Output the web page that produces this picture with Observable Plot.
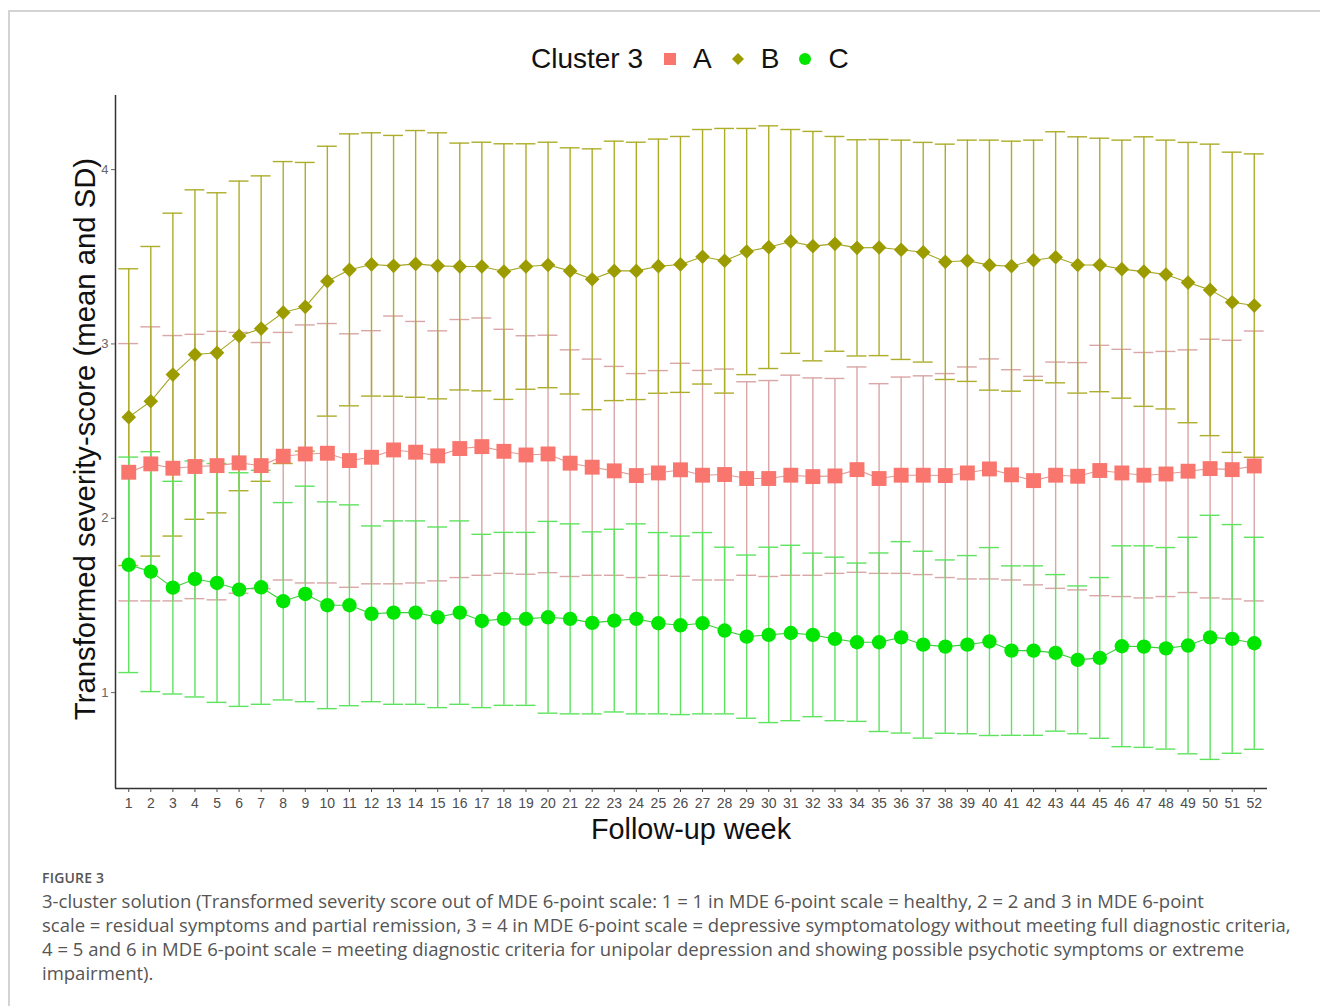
<!DOCTYPE html>
<html>
<head>
<meta charset="utf-8">
<script src="https://cdn.jsdelivr.net/npm/d3@7"></script>
<script src="https://cdn.jsdelivr.net/npm/@observablehq/plot@0.6"></script>
<style>
  body { margin: 0; background: #fff; }
  #page { position: relative; width: 1320px; height: 1006px; overflow: hidden; background: #fff; font-family: "Liberation Sans", Arial, sans-serif; }
  #frame { position: absolute; left: 8px; top: 10px; width: 1330px; height: 1010px; border-top: 2px solid #d4d4d4; border-left: 2px solid #d4d4d4; }
  #legend { position: absolute; left: 531px; top: 39px; height: 40px; display: flex; align-items: center; font-size: 28px; color: #111; white-space: nowrap; }
  #legend svg { display: block; }
  #chart { position: absolute; left: 0; top: 85px; }
  #ytitle { position: absolute; left: 85px; top: 439px; transform: translate(-50%, -50%) rotate(-90deg); font-size: 29.3px; color: #111; white-space: nowrap; }
  #xtitle { position: absolute; left: 691px; top: 829px; transform: translate(-50%, -50%); font-size: 28.8px; color: #111; white-space: nowrap; }
  #figlabel { position: absolute; left: 42px; top: 868px; font-family: "Open Sans", sans-serif; font-size: 14px; font-weight: 600; color: #555; letter-spacing: 0.2px; }
  #caption { position: absolute; left: 42px; top: 889px; font-family: "Open Sans", sans-serif; font-size: 18.5px; line-height: 24px; color: #555; white-space: nowrap; }
</style>
</head>
<body>
<div id="page">
  <div id="frame"></div>
  <div id="legend"></div>
  <div id="chart"></div>
  <div id="ytitle">Transformed severity-score (mean and SD)</div>
  <div id="xtitle">Follow-up week</div>
  <div id="figlabel">FIGURE 3</div>
  <div id="caption">3-cluster solution (Transformed severity score out of MDE 6-point scale: 1 = 1 in MDE 6-point scale = healthy, 2 = 2 and 3 in MDE 6-point<br>scale = residual symptoms and partial remission, 3 = 4 in MDE 6-point scale = depressive symptomatology without meeting full diagnostic criteria,<br>4 = 5 and 6 in MDE 6-point scale = meeting diagnostic criteria for unipolar depression and showing possible psychotic symptoms or extreme<br>impairment).</div>
</div>
<script>
// ---- data ----
const weeks = [1,2,3,4,5,6,7,8,9,10,11,12,13,14,15,16,17,18,19,20,21,22,23,24,25,26,27,28,29,30,31,32,33,34,35,36,37,38,39,40,41,42,43,44,45,46,47,48,49,50,51,52];
const yTicks = [1, 2, 3, 4];
const clusters = ["A", "B", "C"];

const meanA = [2.264,2.312,2.287,2.297,2.302,2.318,2.302,2.356,2.369,2.373,
               2.331,2.350,2.392,2.379,2.358,2.400,2.411,2.384,2.363,2.369,
               2.316,2.293,2.272,2.245,2.260,2.278,2.247,2.251,2.228,2.228,
               2.247,2.239,2.243,2.279,2.228,2.247,2.247,2.245,2.260,2.283,
               2.249,2.216,2.247,2.241,2.274,2.260,2.247,2.254,2.270,2.285,
               2.279,2.300];
const sdA   = [0.738,0.786,0.761,0.758,0.770,0.748,0.706,0.710,0.740,0.744,
               0.727,0.726,0.768,0.750,0.717,0.740,0.738,0.700,0.684,0.681,
               0.650,0.620,0.599,0.585,0.587,0.611,0.601,0.605,0.555,0.562,
               0.574,0.566,0.559,0.589,0.544,0.563,0.570,0.585,0.608,0.631,
               0.603,0.598,0.649,0.652,0.718,0.709,0.704,0.703,0.696,0.742,
               0.742,0.774];
const meanB = [2.580,2.671,2.824,2.939,2.949,3.046,3.088,3.180,3.213,3.360,
               3.425,3.456,3.448,3.459,3.448,3.444,3.444,3.415,3.444,3.453,
               3.419,3.371,3.419,3.419,3.446,3.456,3.500,3.477,3.530,3.555,
               3.588,3.561,3.574,3.551,3.553,3.540,3.526,3.471,3.477,3.452,
               3.446,3.480,3.497,3.453,3.453,3.429,3.415,3.398,3.352,3.310,
               3.239,3.220];
const sdB   = [0.851,0.888,0.926,0.945,0.918,0.888,0.876,0.866,0.828,0.774,
               0.780,0.755,0.748,0.765,0.763,0.708,0.713,0.733,0.704,0.704,
               0.706,0.748,0.744,0.738,0.729,0.734,0.730,0.759,0.706,0.696,
               0.642,0.658,0.616,0.620,0.620,0.629,0.630,0.675,0.692,0.717,
               0.717,0.689,0.720,0.735,0.727,0.740,0.773,0.771,0.804,0.836,
               0.861,0.870];
const meanC = [1.733,1.694,1.602,1.652,1.629,1.591,1.604,1.524,1.566,1.501,
               1.501,1.452,1.459,1.459,1.432,1.459,1.411,1.423,1.423,1.432,
               1.423,1.400,1.413,1.423,1.398,1.386,1.398,1.356,1.321,1.331,
               1.342,1.331,1.308,1.289,1.289,1.317,1.275,1.264,1.275,1.293,
               1.241,1.241,1.228,1.188,1.199,1.266,1.264,1.254,1.270,1.317,
               1.308,1.283];
const sdC   = [0.618,0.688,0.610,0.677,0.685,0.670,0.671,0.566,0.618,0.593,
               0.576,0.504,0.526,0.526,0.518,0.526,0.497,0.496,0.496,0.550,
               0.545,0.522,0.524,0.545,0.520,0.512,0.520,0.478,0.468,0.503,
               0.503,0.469,0.469,0.454,0.512,0.549,0.536,0.497,0.511,0.539,
               0.486,0.486,0.449,0.424,0.461,0.576,0.578,0.578,0.621,0.700,
               0.656,0.608];

// ---- styles ----
const style = {
  A: {point: "#F8766D", line: "#e39a96", bar: "#d9a5a5", symbol: "square",   r: 8.4},
  B: {point: "#9c9c00", line: "#a5a524", bar: "#adad2a", symbol: "diamond2", r: 6.6},
  C: {point: "#00e600", line: "#3ccf3c", bar: "#5ee35e", symbol: "circle",   r: 7.2}
};

const series = {
  A: weeks.map((w, i) => ({week: w, mean: meanA[i], sd: sdA[i]})),
  B: weeks.map((w, i) => ({week: w, mean: meanB[i], sd: sdB[i]})),
  C: weeks.map((w, i) => ({week: w, mean: meanC[i], sd: sdC[i]}))
};

const capHalf = 0.45;
const marks = [];
for (const k of clusters) {
  const rows = series[k], s = style[k];
  marks.push(Plot.ruleX(rows, {x: "week", y1: d => d.mean - d.sd, y2: d => d.mean + d.sd, stroke: s.bar, strokeWidth: 1.4}));
  marks.push(Plot.ruleY(rows, {y: d => d.mean + d.sd, x1: d => d.week - capHalf, x2: d => d.week + capHalf, stroke: s.bar, strokeWidth: 1.4}));
  marks.push(Plot.ruleY(rows, {y: d => d.mean - d.sd, x1: d => d.week - capHalf, x2: d => d.week + capHalf, stroke: s.bar, strokeWidth: 1.4}));
}
for (const k of clusters) {
  marks.push(Plot.line(series[k], {x: "week", y: "mean", stroke: style[k].line, strokeWidth: 1.1}));
}
for (const k of clusters) {
  const s = style[k];
  marks.push(Plot.dot(series[k], {x: "week", y: "mean", symbol: s.symbol, r: s.r, fill: s.point, stroke: "none"}));
}
marks.push(Plot.ruleX([0.4], {stroke: "#333", strokeWidth: 1.5}));
marks.push(Plot.ruleY([0.45], {stroke: "#333", strokeWidth: 1.5}));
marks.push(Plot.axisX({ticks: weeks, tickFormat: d => String(d), tickSize: 4, tickPadding: 6, fontSize: 14, color: "#4d4d4d", label: null}));
marks.push(Plot.axisY({ticks: yTicks, tickFormat: d => String(d), tickSize: 4, tickPadding: 3, fontSize: 13, color: "#666", label: null}));

const chart = Plot.plot({
  width: 1320,
  height: 760,
  marginTop: 10,
  marginRight: 53,
  marginBottom: 57,
  marginLeft: 115,
  x: {domain: [0.4, 52.6], axis: null},
  y: {domain: [0.45, 4.425], axis: null},
  style: {fontFamily: "'Liberation Sans', Arial, sans-serif", background: "transparent", overflow: "visible"},
  marks
});
document.getElementById("chart").appendChild(chart);

// ---- legend ----
const legend = document.getElementById("legend");
const title = document.createElement("span");
title.textContent = "Cluster 3";
title.style.marginRight = "20px";
legend.appendChild(title);
const symPath = {
  square: '<rect x="1" y="1" width="12" height="12"/>',
  diamond2: '<path d="M7,1 L13,7 L7,13 L1,7 Z"/>',
  circle: '<circle cx="7" cy="7" r="6"/>'
};
for (const k of clusters) {
  const s = style[k];
  const sw = document.createElement("span");
  sw.innerHTML = `<svg width="14" height="14" viewBox="0 0 14 14"><g fill="${s.point}">${symPath[s.symbol]}</g></svg>`;
  sw.style.margin = "0 16px 0 0";
  legend.appendChild(sw);
  const lab = document.createElement("span");
  lab.textContent = k;
  lab.style.marginRight = "19px";
  legend.appendChild(lab);
}
</script>
</body>
</html>
